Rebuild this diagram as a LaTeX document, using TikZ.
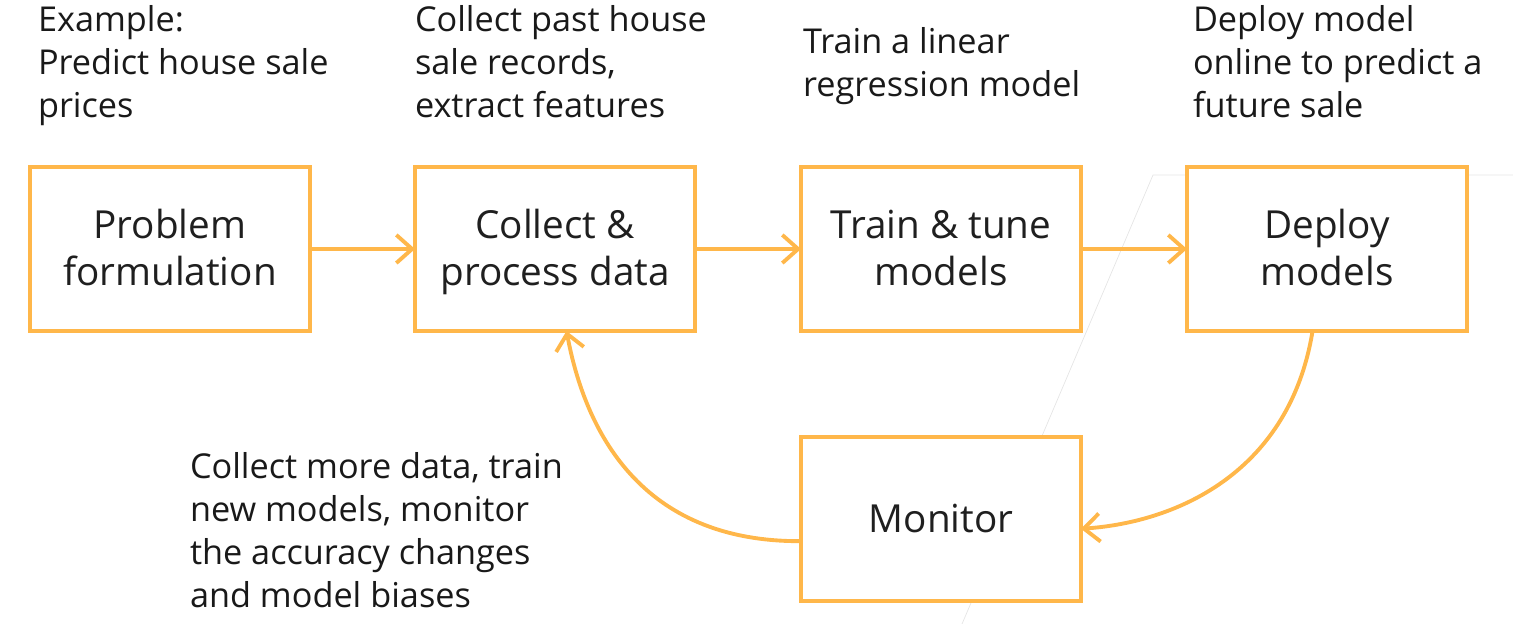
\documentclass[tikz,border=0pt]{standalone}
\usepackage{fontspec}
\setmainfont{Open Sans}
\usetikzlibrary{arrows.meta}
\definecolor{boxorange}{RGB}{255,183,74}
\newcommand{\stagetop}{\rule{0pt}{22.5pt}}
\begin{document}
\begin{tikzpicture}[x=0.02cm,y=-0.02cm,inner sep=0pt,outer sep=0pt,line width=2.2pt,
stage/.style={draw=boxorange,fill=white,rectangle,minimum width=5.6cm,minimum height=3.28cm,align=center,font=\fontsize{22}{26.5}\selectfont,text=black!88},
note/.style={anchor=north west,align=left,font=\fontsize{19.5}{24.6}\selectfont,text=black!90},
flow/.style={draw=boxorange,-{Straight Barb[length=9pt,width=16pt,line width=2.2pt]}}]
\useasboundingbox (0,0) rectangle (1513,624);
% faint background lines
\draw[line width=0.4pt,black!10] (1513,175) -- (1153,175) -- (962,624);
% stages
\draw (170,249) node[stage] (problem) {\stagetop Problem\\formulation\strut};
\draw (555,249) node[stage] (collect) {\stagetop Collect \&\\process data\strut};
\draw (941,249) node[stage] (train) {\stagetop Train \& tune\\models\strut};
\draw (1327,249) node[stage] (deploy) {\stagetop Deploy\\models\strut};
\draw (941,519) node[stage] (monitor) {Monitor};
% notes
\node[note] (n1) at (38,5) {Example:\\Predict house sale\\prices};
\node[note] (n2) at (415,5) {Collect past house\\sale records,\\extract features};
\node[note] (n3) at (803,27) {Train a linear\\regression model};
\node[note] (n4) at (1193,5) {Deploy model\\online to predict a\\future sale};
\node[note] (n5) at (190,452) {Collect more data, train\\new models, monitor\\the accuracy changes\\and model biases};
% arrows
\draw[flow] (problem) -- (collect);
\draw[flow] (collect) -- (train);
\draw[flow] (train) -- (deploy);
\draw[flow] (deploy.-100) .. controls (1290,470) and (1180,522) .. (monitor.-4.5);
\draw[flow] (monitor.189) .. controls (640,542) and (585,430) .. (collect.-82);
\end{tikzpicture}
\end{document}
